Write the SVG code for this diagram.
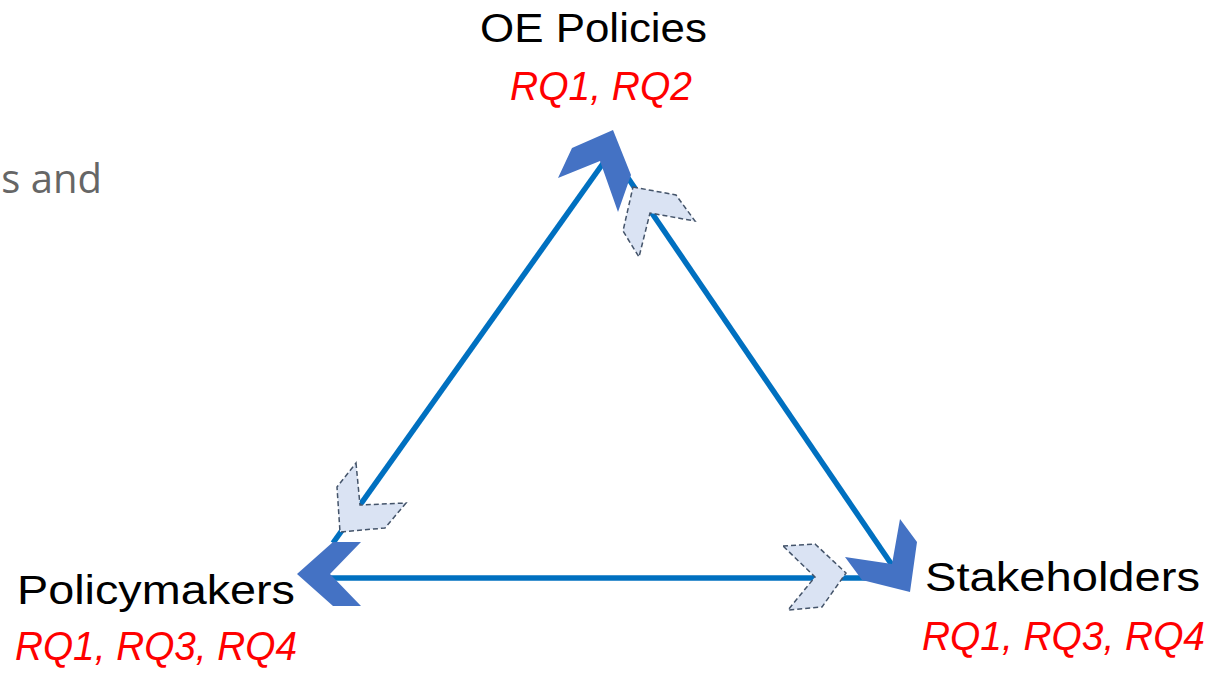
<svg xmlns="http://www.w3.org/2000/svg" width="1222" height="673" viewBox="0 0 1222 673">
<style>
.lbl{font-family:"Liberation Sans","Open Sans",Arial,sans-serif;font-size:40px;fill:#000}
.rq{font-family:"Liberation Sans","Open Sans",Arial,sans-serif;font-size:40px;font-style:italic;fill:#FF0000}
.ln{stroke:#0070C0;stroke-width:5.5;fill:none}
.dark{fill:#4472C4;stroke:none}
.light{fill:#DAE3F3;stroke:#44546A;stroke-width:1.5;stroke-dasharray:5 3}
.frag{font-family:"Open Sans","Liberation Sans",sans-serif;font-size:40px;fill:#666666}
</style>
<rect width="1222" height="673" fill="#FFFFFF"/>
<text class="frag" x="102" y="193" text-anchor="end">s and</text>
<g id="connectors">
  <line class="ln" x1="604" y1="162" x2="333" y2="543"/>
  <line class="ln" x1="628" y1="178" x2="892" y2="565"/>
  <line class="ln" x1="330" y1="578" x2="870" y2="578"/>
  <polygon class="dark" points="558,178 572,148 613,130 631,175 618,212 600,161"/>
  <polygon class="light" points="633,187 676,195 695,221 650,213 639,257 623,231"/>
  <polygon class="light" points="356,463 360,505 406,503 385,528 340,532 337,487"/>
  <polygon class="dark" points="297,574 333,542 361,542 330,574 361,606 333,606"/>
  <polygon class="light" points="783,546 815,544 846,573 822,607 788,610 815,577"/>
  <polygon class="dark" points="900,519 917,542 910,592 862,580 845,557 892,564"/>
</g>
<g id="node-oe-policies">
  <text class="lbl" x="480" y="42" textLength="227" lengthAdjust="spacingAndGlyphs">OE Policies</text>
  <text class="rq" x="510" y="100" textLength="182" lengthAdjust="spacingAndGlyphs">RQ1, RQ2</text>
</g>
<g id="node-policymakers">
  <text class="lbl" x="17" y="604" textLength="278" lengthAdjust="spacingAndGlyphs">Policymakers</text>
  <text class="rq" x="15" y="660" textLength="282" lengthAdjust="spacingAndGlyphs">RQ1, RQ3, RQ4</text>
</g>
<g id="node-stakeholders">
  <text class="lbl" x="925" y="591" textLength="275" lengthAdjust="spacingAndGlyphs">Stakeholders</text>
  <text class="rq" x="922" y="650" textLength="283" lengthAdjust="spacingAndGlyphs">RQ1, RQ3, RQ4</text>
</g>
</svg>
